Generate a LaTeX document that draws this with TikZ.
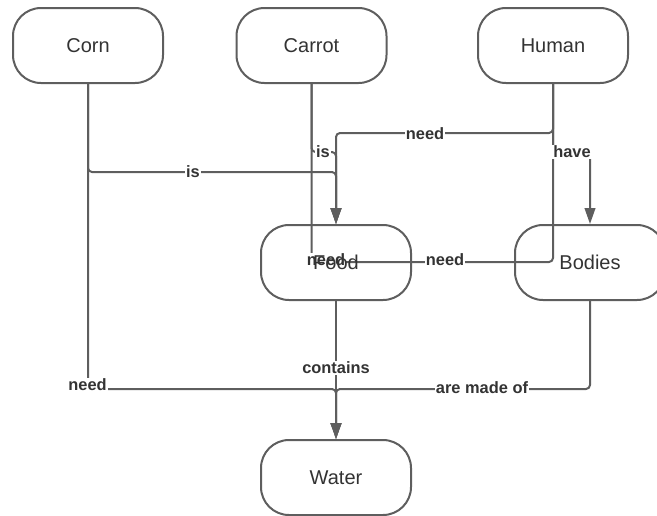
\documentclass[tikz,border=0pt]{standalone}
\usepackage{fontspec}
\setmainfont{Liberation Sans}
\usepackage{tikz}
\usetikzlibrary{arrows.meta}
\definecolor{linegray}{HTML}{5E5E5E}
\definecolor{textgray}{HTML}{333333}
\pgfdeclarelayer{front}
\pgfsetlayers{main,front}

\begin{document}
\begin{tikzpicture}[x=0.75pt, y=-0.75pt,
        box/.style = {draw=linegray, line width=1.5pt, rounded corners=21pt,
            minimum width=112.5pt, minimum height=56.25pt, inner sep=0pt,
            text=textgray, font=\fontsize{15}{18}\selectfont},
        conn/.style = {draw=linegray, line width=1.5pt, rounded corners=3pt},
        tip/.style = {-{Triangle[length=12pt, width=8pt]}},
        lab/.style = {fill=white, inner sep=1pt, text=textgray,
            font=\fontsize{12.3}{14}\selectfont\bfseries}]

    \useasboundingbox (0,0) rectangle (657,515);

    % Boxes
    \begin{pgfonlayer}{front}
        \node[box] (Corn) at (88,45.5) {Corn};
        \node[box] (Carrot) at (311.5,45.5) {Carrot};
        \node[box] (Human) at (553,45.5) {Human};
        \node[box] (Food) at (336,262.5) {Food};
        \node[box] (Bodies) at (590,262.5) {Bodies};
        \node[box] (Water) at (336,477.5) {Water};
    \end{pgfonlayer}

    % Into Food
    \draw[conn,tip] (Corn.south) |- (Food.north |- 0,172) -- (Food.north);
    \draw[conn,tip] (Carrot.south) |- (Food.north |- 0,152) -- (Food.north);
    \draw[conn,tip] (Human.south) |- (Food.north |- 0,133) -- (Food.north);

    % Human and Bodies
    \draw[conn,tip] (Human.south) |- (Bodies.north |- 0,152) -- (Bodies.north);
    \draw[conn] (Carrot.south) |- (Human.south |- 0,262) -- (Human.south);

    % Into Water
    \draw[conn,tip] (Food.south) -- (Water.north);
    \draw[conn,tip] (Corn.south) |- (Water.north |- 0,389) -- (Water.north);
    \draw[conn,tip] (Bodies.south) |- (Water.north |- 0,389) -- (Water.north);

    % Labels
    \node[lab] (isCorn) at (193,172) {is};
    \node[lab] (isCarrot) at (323,152) {is};
    \node[lab] (needHuman) at (425,134) {need};
    \node[lab] (haveHuman) at (572,152) {have};
    \node[lab] (needFood) at (326,260) {need};
    \node[lab] (needBodies) at (445,260) {need};
    \node[lab] (containsFood) at (336,368) {contains};
    \node[lab] (needCorn) at (87.5,385) {need};
    \node[lab] (madeBodies) at (482,388) {are made of};

\end{tikzpicture}
\end{document}
